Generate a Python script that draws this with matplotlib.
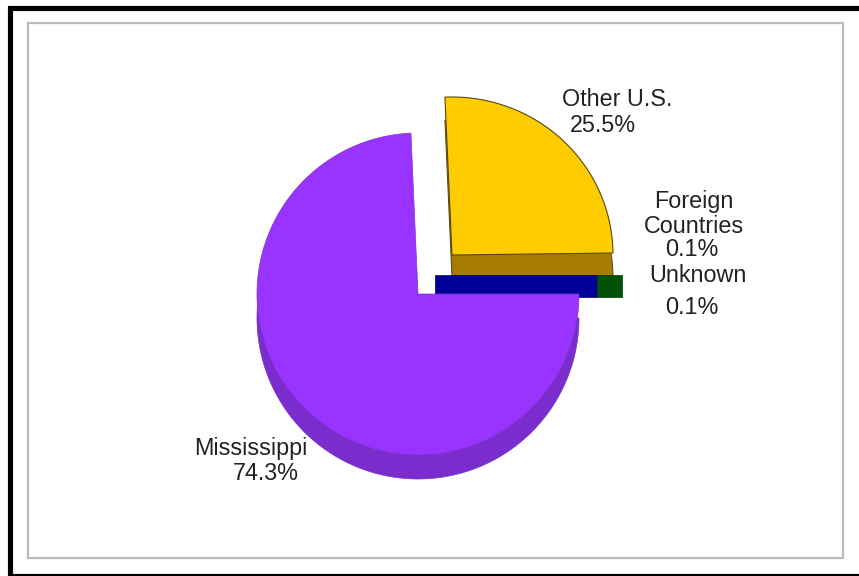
import numpy as np
import matplotlib
matplotlib.use("Agg")
import matplotlib.pyplot as plt
from matplotlib.patches import Polygon, Rectangle

plt.rcParams["font.family"] = ["Liberation Sans", "DejaVu Sans"]

W, H = 859, 576

# data
shares = [74.3, 25.5, 0.1, 0.1]
categories = ["Mississippi", "Other U.S.", "Foreign\nCountries", "Unknown"]
value_labels = ["74.3%", "25.5%", "0.1%", "0.1%"]

PURPLE, PURPLE_DK = "#9933ff", "#7a2ccc"
YELLOW, YELLOW_DK = "#ffcc00", "#a67c00"
BLUE, GREEN = "#000099", "#005206"
EDGE = "#5a4610"


def Y(y):
    # picture rows -> axes units
    return H - y


def wedge_xy(cx, cy, rx, ry, a0, a1):
    # a0 -> a1 in degrees, counter clockwise; apex first
    t = np.radians(np.linspace(a0, a1, 240))
    xs = np.r_[cx, cx + rx * np.cos(t)]
    ys = np.r_[Y(cy), Y(cy) + ry * np.sin(t)]
    return np.c_[xs, ys]


fig = plt.figure(figsize=(W / 100, H / 100), dpi=100)
ax = fig.add_axes([0, 0, 1, 1])
ax.set_xlim(0, W)
ax.set_ylim(0, H)
ax.axis("off")

# outer black frame and grey plot frame
ax.add_patch(Rectangle((10, Y(576)), 860, 568.5, fill=False, ec="black", lw=3.7))
ax.add_patch(Rectangle((27.5, Y(558)), 815.5, 535, fill=False, ec="#bcbcbc", lw=1.6))

# slice angles, clockwise from east
angles = -np.cumsum([0] + shares) * 3.6

# Mississippi
a_end, a_start = angles[1], angles[0]
cx, cy, r, depth = 418, 294, 161, 24
ax.add_patch(Polygon(wedge_xy(cx, cy + depth, r, r, a_end, a_start), fc=PURPLE_DK, ec=PURPLE_DK, lw=0.5, zorder=2))

# Other U.S. side wall goes behind the thin slices
a_end2, a_start2 = angles[2], angles[1]
cx2, cy2, rx2, ry2, depth2 = 452, 255, 161, 158, 23
ax.add_patch(Polygon(wedge_xy(cx2, cy2 + depth2, rx2, ry2, a_end2, a_start2), fc=YELLOW_DK, ec=EDGE, lw=0.7, zorder=2.5))

# thin exploded slices seen edge-on
ax.add_patch(Rectangle((435, Y(297)), 162, 22, fc=BLUE, ec="#00005a", lw=0.5, zorder=3))
ax.add_patch(Rectangle((597, Y(297)), 25, 22, fc=GREEN, ec="#003a04", lw=0.5, zorder=3))

ax.add_patch(Polygon(wedge_xy(cx, cy, r, r, a_end, a_start), fc=PURPLE, ec="#7c35c8", lw=0.5, zorder=4))
ax.add_patch(Polygon(wedge_xy(cx2, cy2, rx2, ry2, a_end2, a_start2), fc=YELLOW, ec=EDGE, lw=0.8, zorder=3.5))

# labels
fs = 16.8
tc = "#222222"
ax.text(251, Y(448), categories[0], fontsize=fs, color=tc, ha="center", va="center", zorder=6)
ax.text(265.5, Y(474), value_labels[0], fontsize=fs, color=tc, ha="center", va="center", zorder=6)
ax.text(617.5, Y(100), categories[1], fontsize=fs, color=tc, ha="center", va="center", zorder=6)
ax.text(603, Y(126), value_labels[1], fontsize=fs, color=tc, ha="center", va="center", zorder=6)
ax.text(694, Y(214), categories[2], fontsize=fs, color=tc, ha="center", va="center", linespacing=1.1, zorder=6)
ax.text(692, Y(250), value_labels[2], fontsize=fs, color=tc, ha="center", va="center", zorder=6)
ax.text(698, Y(275), categories[3], fontsize=fs, color=tc, ha="center", va="center", zorder=6)
ax.text(692, Y(307), value_labels[3], fontsize=fs, color=tc, ha="center", va="center", zorder=6)

fig.savefig("out.png", dpi=100)
plt.close(fig)
